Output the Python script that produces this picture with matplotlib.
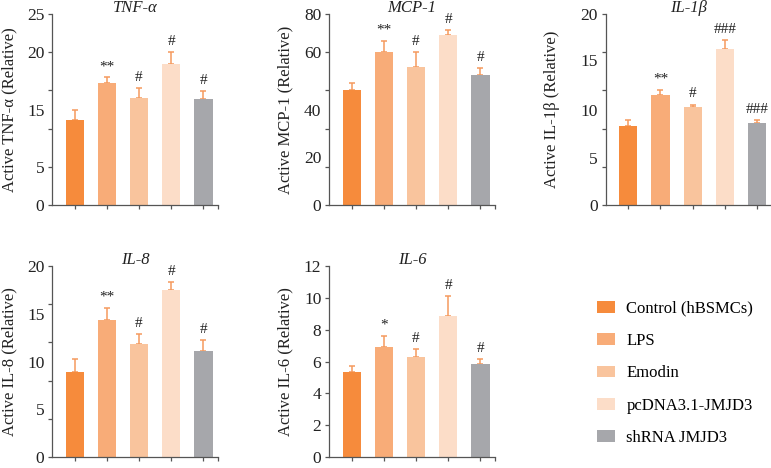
import numpy as np
import matplotlib
matplotlib.use("Agg")
import matplotlib.pyplot as plt

plt.rcParams['font.family'] = ['Liberation Serif', 'DejaVu Serif']

# groups and colours
groups = ['Control (hBSMCs)', 'LPS', 'Emodin', 'pcDNA3.1-JMJD3', 'shRNA JMJD3']
colors = ['#F68B3C', '#F8AC78', '#F9C49D', '#FCDDC8', '#A6A7AB']
err_color = '#F59A5E'

# bar heights (axis units) and upper error bar tops
tnf_mean = [11.1, 15.95, 14.0, 18.5, 13.85]
tnf_top = [12.5, 16.7, 15.25, 20.0, 14.9]
mcp_mean = [48.1, 64.2, 57.6, 71.3, 54.4]
mcp_top = [50.9, 68.8, 63.9, 73.3, 57.5]
il1b_mean = [8.32, 11.5, 10.24, 16.33, 8.6]
il1b_top = [8.88, 12.03, 10.52, 17.24, 8.88]
il8_mean = [8.94, 14.38, 11.83, 17.52, 11.1]
il8_top = [10.26, 15.6, 12.91, 18.32, 12.2]
il6_mean = [5.36, 6.91, 6.28, 8.88, 5.86]
il6_top = [5.74, 7.62, 6.8, 10.12, 6.16]

tnf_marks = ['', '**', '#', '#', '#']
mcp_marks = ['', '**', '#', '#', '#']
il1b_marks = ['', '**', '#', '###', '###']
il8_marks = ['', '**', '#', '#', '#']
il6_marks = ['', '*', '#', '#', '#']

# tick marks and (slightly offset) tick labels as printed in the figure
tnf_ticks = [0, 5, 10, 15, 20, 25]
tnf_label_pos = [0, 5, 12.4, 20, 25]
tnf_labels = ['0', '5', '15', '20', '25']
mcp_ticks = [0, 16, 32, 48, 64, 80]
mcp_label_pos = [0, 20.1, 40, 63.9, 80]
mcp_labels = ['0', '20', '40', '60', '80']
il1b_ticks = [0, 4, 8, 12, 16, 20]
il1b_label_pos = [0, 4.97, 9.9, 15.17, 20]
il1b_labels = ['0', '5', '10', '15', '20']
il8_ticks = [0, 4, 8, 12, 16, 20]
il8_label_pos = [0, 5.06, 10.0, 15.0, 20]
il8_labels = ['0', '5', '10', '15', '20']
il6_ticks = [0, 2, 4, 6, 8, 10, 12]
il6_labels = ['0', '2', '4', '6', '8', '10', '12']

panels = [
    dict(title='TNF-α', ylabel='Active TNF-α (Relative)', mean=tnf_mean, top=tnf_top,
         marks=tnf_marks, ymax=25, ticks=tnf_ticks, lpos=tnf_label_pos, labels=tnf_labels),
    dict(title='MCP-1', ylabel='Active MCP-1 (Relative)', mean=mcp_mean, top=mcp_top,
         marks=mcp_marks, ymax=80, ticks=mcp_ticks, lpos=mcp_label_pos, labels=mcp_labels),
    dict(title='IL-1β', ylabel='Active IL-1β (Relative)', mean=il1b_mean, top=il1b_top,
         marks=il1b_marks, ymax=20, ticks=il1b_ticks, lpos=il1b_label_pos, labels=il1b_labels),
    dict(title='IL-8', ylabel='Active IL-8 (Relative)', mean=il8_mean, top=il8_top,
         marks=il8_marks, ymax=20, ticks=il8_ticks, lpos=il8_label_pos, labels=il8_labels),
    dict(title='IL-6', ylabel='Active IL-6 (Relative)', mean=il6_mean, top=il6_top,
         marks=il6_marks, ymax=12, ticks=il6_ticks, lpos=il6_ticks, labels=il6_labels),
]

W, H = 771, 468
fig = plt.figure(figsize=(W / 100, H / 100), dpi=100)

# axes boxes in pixels: left, top
boxes = [(52, 14), (329, 14), (605.7, 14), (52, 266), (329, 266)]
label_x = [-0.21, -0.217, -0.275, -0.21, -0.217]
ax_w, ax_h = 166, 191

axis_col = '#555555'
txt_col = '#222222'
x = np.arange(len(groups))
bars = None
for p, (left, top), lx in zip(panels, boxes, label_x):
    ax = fig.add_axes([left / W, 1 - (top + ax_h) / H, ax_w / W, ax_h / H])
    mean = np.array(p['mean'])
    up = np.array(p['top']) - mean
    bars = ax.bar(x, mean, width=0.56, color=colors, zorder=2)
    for i in range(len(x)):
        ax.errorbar(x[i], mean[i], yerr=[[0], [up[i]]], fmt='none', ecolor=err_color,
                    elinewidth=1.1, capsize=2.5, capthick=1.1, zorder=1)
        if p['marks'][i]:
            ax.annotate(p['marks'][i], (x[i], p['top'][i]), xytext=(0, 3),
                        textcoords='offset points', ha='center', va='bottom',
                        fontsize=11, color=txt_col)
    ax.set_xlim(-0.7, 4.45)
    ax.set_ylim(0, p['ymax'])
    ax.set_xticks(list(x) + [4.45])
    ax.set_xticklabels([])
    ax.set_yticks(p['ticks'])
    ax.set_yticklabels([])
    ax.yaxis.remove_overlapping_locs = False
    ax.set_yticks(p['lpos'], p['labels'], minor=True)
    ax.tick_params(axis='both', which='major', length=3, width=0.9, color=axis_col)
    ax.tick_params(axis='y', which='minor', length=0, pad=5.5, labelsize=12.5, labelcolor=txt_col)
    for s in ['top', 'right']:
        ax.spines[s].set_visible(False)
    for s in ['left', 'bottom']:
        ax.spines[s].set_color(axis_col)
        ax.spines[s].set_linewidth(0.9)
    # title sits just above the top of the y axis
    ax.text(0.5, 1 + 6 / ax_h, p['title'], transform=ax.transAxes, ha='center', va='center',
            fontstyle='italic', fontsize=12, color=txt_col)
    ax.set_ylabel(p['ylabel'], fontsize=12, color=txt_col)
    ax.yaxis.set_label_coords(lx, 0.5)

fig.legend(bars, groups, loc='upper left', bbox_to_anchor=(597 / W, 1 - 300.7 / H),
           frameon=False, fontsize=12, handlelength=1.05, handleheight=0.72,
           handletextpad=0.72, labelspacing=0.98, borderpad=0, borderaxespad=0)

fig.savefig('out.png', dpi=100)
